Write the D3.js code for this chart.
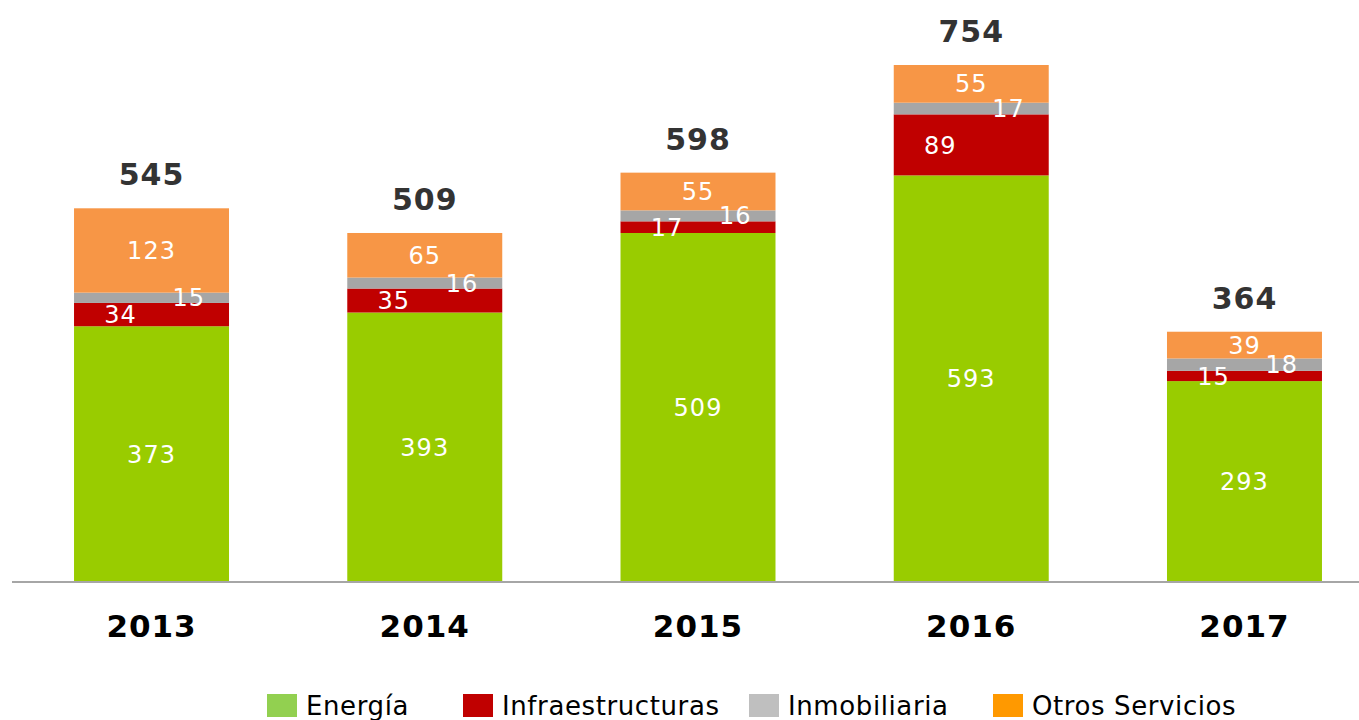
<!DOCTYPE html>
<html>
<head>
<meta charset="utf-8">
<script src="https://cdn.jsdelivr.net/npm/d3@7"></script>
<style>
	body { margin: 0; background: #fff; }
	svg { display: block; font-family: "DejaVu Sans", Verdana, sans-serif; }
</style>
</head>
<body>
<svg id="chart" width="1359" height="720"></svg>
<script>

var years = [ "2013", "2014", "2015", "2016", "2017" ];
var seriesNames = [ "Energía", "Infraestructuras", "Inmobiliaria", "Otros Servicios" ];
var energia = [ 373, 393, 509, 593, 293 ];
var infraestructuras = [ 34, 35, 17, 89, 15 ];
var inmobiliaria = [ 15, 16, 16, 17, 18 ];
var otros = [ 123, 65, 55, 55, 39 ];
var totals = [ 545, 509, 598, 754, 364 ];

var barColors = [ "#99cc00", "#c00000", "#a6a6a6", "#f79646" ];
var legendColors = [ "#92d050", "#c00000", "#bfbfbf", "#ff9900" ];
// where the small labels sit inside the bar (fraction of the bar width)
var labelPos = [ 0.5, 0.3, 0.74, 0.5 ];

var svg = d3.select("#chart");

var rows = years.map(function(y, i) {
	return {
		year : y,
		s0 : energia[i],
		s1 : infraestructuras[i],
		s2 : inmobiliaria[i],
		s3 : otros[i],
		total : totals[i]
	};
});

var stack = d3.stack().keys([ "s0", "s1", "s2", "s3" ]);
var layers = stack(rows);

var x = d3.scaleBand().domain(years).range([ 14.9, 1381.1 ])//
.paddingInner(0.4328).paddingOuter(0.2164);
var y = d3.scaleLinear().domain([ 0, 754 ]).range([ 582, 65 ]);

var layerG = svg.selectAll(".layer").data(layers).enter().append("g")//
.attr("class", "layer")//
.attr("fill", function(d, i) {
	return barColors[i];
});

layerG.selectAll("rect").data(function(d) {
	return d;
}).enter().append("rect")//
.attr("x", function(d) {
	return x(d.data.year);
})//
.attr("y", function(d) {
	return y(d[1]);
})//
.attr("width", x.bandwidth())//
.attr("height", function(d) {
	return y(d[0]) - y(d[1]);
});

// segment labels
layers.forEach(function(layer, li) {
	svg.append("g").selectAll("text").data(layer).enter().append("text")//
	.attr("x", function(d) {
		return x(d.data.year) + x.bandwidth() * labelPos[li];
	})//
	.attr("y", function(d) {
		return (y(d[0]) + y(d[1])) / 2;
	})//
	.attr("dy", "0.36em")//
	.attr("text-anchor", "middle")//
	.attr("fill", "#fff")//
	.style("font-size", "24px")//
	.style("letter-spacing", "1px")//
	.text(function(d) {
		return d[1] - d[0];
	});
});

// totals
svg.append("g").selectAll("text").data(rows).enter().append("text")//
.attr("x", function(d) {
	return x(d.year) + x.bandwidth() / 2;
})//
.attr("y", function(d) {
	return y(d.s0 + d.s1 + d.s2 + d.s3) - 23;
})//
.attr("text-anchor", "middle")//
.attr("fill", "#333")//
.style("font-size", "30px")//
.style("font-weight", "bold")//
.style("letter-spacing", "1px")//
.text(function(d) {
	return d.total;
});

// axis
var xAxis = d3.axisBottom(x).tickSize(0).tickPadding(33);
var axisG = svg.append("g").attr("transform", "translate(0," + y(0) + ")").call(xAxis);
axisG.select(".domain").attr("d", "M12,0H1359").attr("stroke", "#a6a6a6").attr("stroke-width", 2);
axisG.selectAll(".tick text")//
.attr("fill", "#000")//
.style("font-family", "'DejaVu Sans', Verdana, sans-serif")//
.style("font-size", "31px")//
.style("font-weight", "bold")//
.style("letter-spacing", "1px");

// legend
var legendX = [ 267, 463, 749, 993 ];
var legend = svg.append("g").selectAll("g").data(seriesNames).enter().append("g")//
.attr("transform", function(d, i) {
	return "translate(" + legendX[i] + ",694)";
});
legend.append("rect").attr("width", 30).attr("height", 23).attr("fill", function(d, i) {
	return legendColors[i];
});
legend.append("text").attr("x", 39).attr("y", 21).attr("fill", "#000")//
.style("font-size", "26px")//
.style("letter-spacing", "0.6px")//
.text(function(d) {
	return d;
});

</script>
</body>
</html>
